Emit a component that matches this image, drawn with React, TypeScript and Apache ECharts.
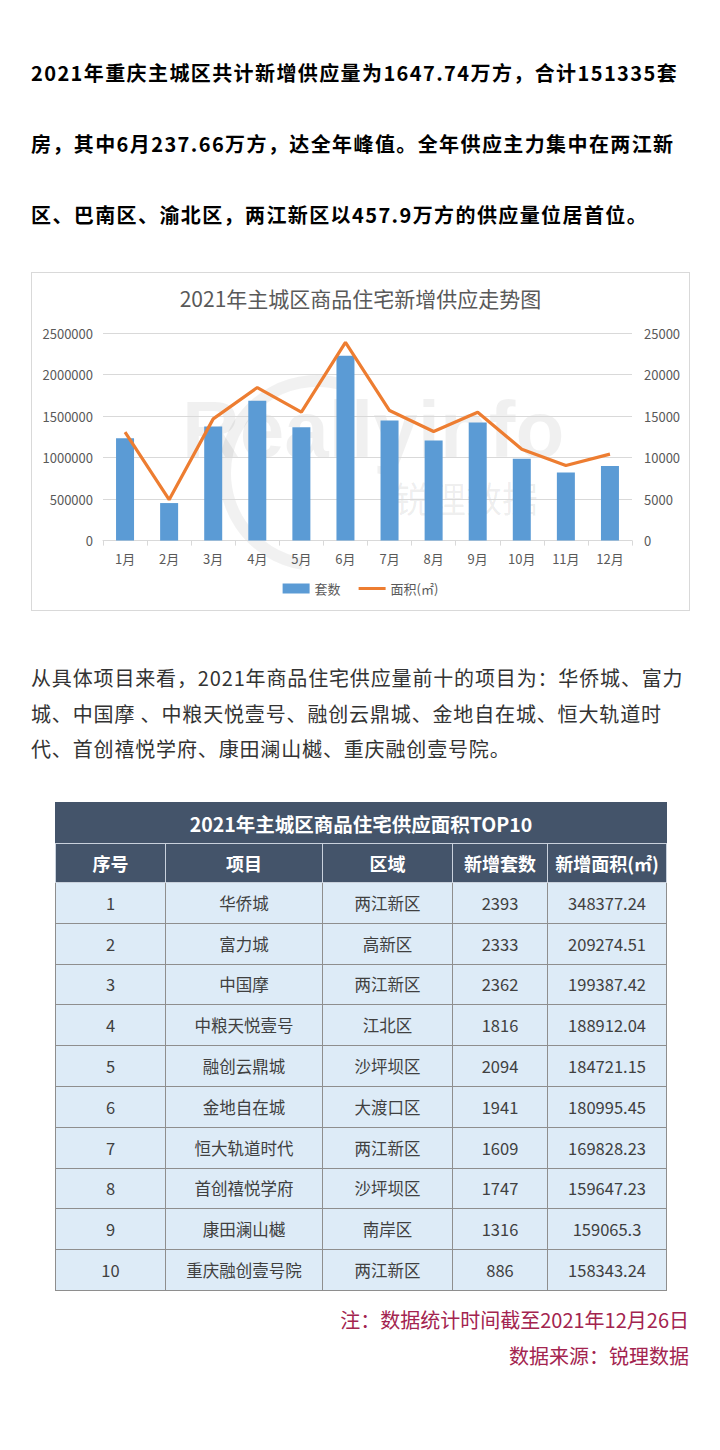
import React, { useEffect, useRef } from "react";
import * as echarts from "echarts";

const months = ["1月", "2月", "3月", "4月", "5月", "6月", "7月", "8月", "9月", "10月", "11月", "12月"];
const barValues = [1233000, 452000, 1374000, 1683000, 1366000, 2227000, 1446000, 1205000, 1422000, 985000, 821000, 897000];
const lineValues = [13050, 4930, 14660, 18430, 15460, 23870, 15660, 13140, 15460, 11010, 9050, 10410];
const barName = "套数";
const lineName = "面积(㎡)";
const chartTitle = "2021年主城区商品住宅新增供应走势图";

const para1 = [
  "2021年重庆主城区共计新增供应量为1647.74万方，合计151335套",
  "房，其中6月237.66万方，达全年峰值。全年供应主力集中在两江新",
  "区、巴南区、渝北区，两江新区以457.9万方的供应量位居首位。",
];
const para2 = [
  "从具体项目来看，2021年商品住宅供应量前十的项目为：华侨城、富力",
  "城、中国摩 、中粮天悦壹号、融创云鼎城、金地自在城、恒大轨道时",
  "代、首创禧悦学府、康田澜山樾、重庆融创壹号院。",
];

const tableTitle = "2021年主城区商品住宅供应面积TOP10";
const tableHeaders = ["序号", "项目", "区域", "新增套数", "新增面积(㎡)"];
const ranks = ["1", "2", "3", "4", "5", "6", "7", "8", "9", "10"];
const projects = ["华侨城", "富力城", "中国摩", "中粮天悦壹号", "融创云鼎城", "金地自在城", "恒大轨道时代", "首创禧悦学府", "康田澜山樾", "重庆融创壹号院"];
const districts = ["两江新区", "高新区", "两江新区", "江北区", "沙坪坝区", "大渡口区", "两江新区", "沙坪坝区", "南岸区", "两江新区"];
const newUnits = ["2393", "2333", "2362", "1816", "2094", "1941", "1609", "1747", "1316", "886"];
const newAreas = ["348377.24", "209274.51", "199387.42", "188912.04", "184721.15", "180995.45", "169828.23", "159647.23", "159065.3", "158343.24"];
const noteLines = ["注：数据统计时间截至2021年12月26日", "数据来源：锐理数据"];

const FONT = '"Noto Sans CJK SC", "Noto Sans", sans-serif';

function Chart() {
  const ref = useRef<HTMLDivElement>(null);
  useEffect(() => {
    if (!ref.current) return;
    const chart = echarts.init(ref.current, undefined, { renderer: "svg" });
    chart.setOption({
      animation: false,
      backgroundColor: "#ffffff",
      textStyle: { fontFamily: FONT },
      title: {
        text: chartTitle,
        left: "center",
        top: 9,
        textStyle: { fontSize: 21, color: "#595959", fontWeight: "normal", fontFamily: FONT },
      },
      graphic: [
        {
          type: "arc",
          shape: { cx: 285, cy: 200, r: 92, startAngle: Math.PI * 0.55, endAngle: Math.PI * 1.6 },
          style: { stroke: "rgba(0,0,0,0.055)", lineWidth: 12, fill: null },
          z: 0,
        },
        {
          type: "text",
          left: 150,
          top: 116,
          style: { text: "Reallyinfo", fontSize: 80, fontWeight: "bold", fill: "rgba(0,0,0,0.06)", fontFamily: "Liberation Sans" },
          z: 0,
        },
        {
          type: "text",
          left: 362,
          top: 206,
          style: { text: "锐理数据", fontSize: 36, fill: "rgba(0,0,0,0.07)", fontFamily: FONT },
          z: 0,
        },
      ],
      legend: {
        bottom: 10,
        left: "center",
        itemGap: 18,
        itemWidth: 27,
        itemHeight: 10,
        textStyle: { color: "#595959", fontSize: 13, fontFamily: FONT },
        data: [
          { name: barName, icon: "rect" },
          { name: lineName, icon: "path://M0,0 H27 V3 H0 Z" },
        ],
      },
      grid: { left: 71, top: 60, width: 529, height: 207.6, containLabel: false },
      xAxis: {
        type: "category",
        data: months,
        axisLine: { lineStyle: { color: "#D9D9D9" } },
        axisTick: { show: true, length: 5, lineStyle: { color: "#D9D9D9" } },
        axisLabel: { color: "#595959", fontSize: 13, margin: 11, fontFamily: FONT },
      },
      yAxis: [
        {
          type: "value",
          min: 0,
          max: 2500000,
          interval: 500000,
          axisLine: { show: false },
          axisTick: { show: false },
          axisLabel: { color: "#595959", fontSize: 13, margin: 10, fontFamily: FONT, formatter: (v: number) => String(v) },
          splitLine: { lineStyle: { color: "#D9D9D9" } },
        },
        {
          type: "value",
          min: 0,
          max: 25000,
          interval: 5000,
          axisLine: { show: false },
          axisTick: { show: false },
          axisLabel: { color: "#595959", fontSize: 13, margin: 12, fontFamily: FONT, formatter: (v: number) => String(v) },
          splitLine: { show: false },
        },
      ],
      series: [
        {
          name: barName,
          type: "bar",
          data: barValues,
          barWidth: 18,
          itemStyle: { color: "#5B9BD5" },
          z: 2,
        },
        {
          name: lineName,
          type: "line",
          yAxisIndex: 1,
          data: lineValues,
          symbol: "none",
          lineStyle: { color: "#ED7D31", width: 3.2 },
          itemStyle: { color: "#ED7D31" },
          z: 3,
        },
      ],
    });
    return () => chart.dispose();
  }, []);
  return (
    <div
      ref={ref}
      style={{
        position: "absolute",
        left: 31,
        top: 272,
        width: 659,
        height: 339,
        boxSizing: "border-box",
        border: "1px solid #D9D9D9",
      }}
    />
  );
}

const colWidths = [110, 157, 130, 95, 119];

export default function App() {
  useEffect(() => {
    document.body.style.margin = "0";
  }, []);
  const lineStyle1 = (i: number): React.CSSProperties => ({
    position: "absolute",
    left: 31,
    top: 58.5 + i * 71.3,
    whiteSpace: "nowrap",
    fontSize: 20,
    fontWeight: "bold",
    letterSpacing: 1.4,
    color: "#000000",
    lineHeight: "28px",
    fontFamily: FONT,
  });
  const lineStyle2 = (i: number): React.CSSProperties => ({
    position: "absolute",
    left: 31,
    top: 664 + i * 35.5,
    whiteSpace: "nowrap",
    fontSize: 20,
    fontWeight: "normal",
    letterSpacing: 0.85,
    color: "#333333",
    lineHeight: "28px",
    fontFamily: FONT,
  });
  const headCell: React.CSSProperties = {
    background: "#44546A",
    color: "#ffffff",
    fontWeight: "bold",
    fontSize: 18,
    textAlign: "center",
    border: "1px solid #C9D1DC",
    padding: 0,
  };
  const dataCell: React.CSSProperties = {
    background: "#DDEBF7",
    color: "#404040",
    fontSize: 16.5,
    textAlign: "center",
    border: "1px solid #8E8E8E",
    padding: 0,
  };
  return (
    <div style={{ position: "absolute", left: 0, top: 0, width: 720, height: 1450, background: "#ffffff", fontFamily: FONT, overflow: "hidden" }}>
      {para1.map((t, i) => (
        <div key={"p1" + i} style={lineStyle1(i)}>{t}</div>
      ))}
      <Chart />
      {para2.map((t, i) => (
        <div key={"p2" + i} style={lineStyle2(i)}>{t}</div>
      ))}
      <table
        style={{
          position: "absolute",
          left: 55,
          top: 802,
          width: 611,
          borderCollapse: "collapse",
          tableLayout: "fixed",
          fontFamily: FONT,
        }}
      >
        <colgroup>
          {colWidths.map((w, i) => (
            <col key={i} style={{ width: w }} />
          ))}
        </colgroup>
        <tbody>
          <tr style={{ height: 41 }}>
            <td colSpan={5} style={{ ...headCell, fontSize: 19.5, borderColor: "#44546A", borderBottom: "1px solid #C9D1DC" }}>{tableTitle}</td>
          </tr>
          <tr style={{ height: 39 }}>
            {tableHeaders.map((h, i) => (
              <td key={i} style={headCell}>{h}</td>
            ))}
          </tr>
          {ranks.map((r, i) => (
            <tr key={r} style={{ height: 40.8 }}>
              <td style={dataCell}>{r}</td>
              <td style={dataCell}>{projects[i]}</td>
              <td style={dataCell}>{districts[i]}</td>
              <td style={dataCell}>{newUnits[i]}</td>
              <td style={dataCell}>{newAreas[i]}</td>
            </tr>
          ))}
        </tbody>
      </table>
      {noteLines.map((t, i) => (
        <div
          key={"n" + i}
          style={{
            position: "absolute",
            right: 31,
            top: 1306 + i * 36,
            whiteSpace: "nowrap",
            fontSize: 20,
            color: "#A3244F",
            lineHeight: "28px",
            fontFamily: FONT,
          }}
        >
          {t}
        </div>
      ))}
    </div>
  );
}
